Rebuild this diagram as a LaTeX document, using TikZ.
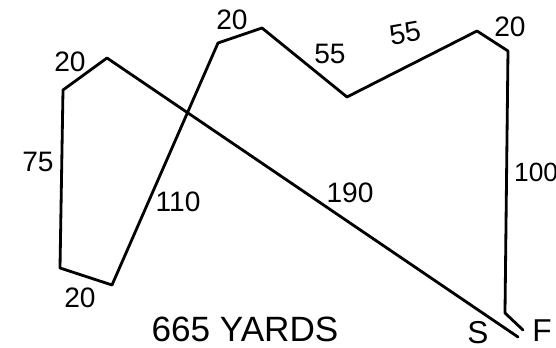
\documentclass[tikz,border=0pt]{standalone}
\usepackage{fontspec}
\setmainfont{Liberation Sans}
\usepackage{tikz}
\usetikzlibrary{positioning}
\tikzset{
 course/.style={draw=black, line width=1.6pt, line join=round, line cap=round},
 dist/.style={font=\fontsize{16}{16}\selectfont, inner sep=1pt},
 endmark/.style={font=\fontsize{18}{18}\selectfont, inner sep=1pt},
 total/.style={font=\fontsize{20}{20}\selectfont, inner sep=1pt},
}

\begin{document}
\begin{tikzpicture}[x=0.02cm, y=-0.02cm]
\useasboundingbox (0,0) rectangle (556,348);

% ,  Course corners , , , , , , , , , , , , , -
\coordinate (S)   at (518,337);
\coordinate (tl)  at (107,58);
\coordinate (tlb) at (63,90);
\coordinate (bl)  at (60,268);
\coordinate (blb) at (112,285);
\coordinate (ml)  at (218,43);
\coordinate (mr)  at (262,28);
\coordinate (dip) at (347,97);
\coordinate (tr)  at (477,31);
\coordinate (trb) at (508,51);
\coordinate (br)  at (505,313);
\coordinate (F)   at (523,330);

% ,  Course line , , , , , , , , , , , , , , -
\draw[course] (S) -- (tl) -- (tlb) -- (bl) -- (blb) -- (ml) -- (mr)
  -- (dip) -- (tr) -- (trb) -- (br) -- (F);

% ,  Leg lengths , , , , , , , , , , , , , , -
\node[dist] (l190) at (350,193) {190};
\node[dist] (l20a) at (70,62) {20};
\node[dist] (l75)  at (38,162) {75};
\node[dist] (l20b) at (80,298) {20};
\node[dist] (l110) at (178,202) {110};
\node[dist] (l20c) at (232,20) {20};
\node[dist] (l55a) at (330,54) {55};
\node[dist, rotate=10] (l55b) at (405,33) {55};
\node[dist] (l20d) at (510,27) {20};
\node[dist, font=\fontsize{15}{15}\selectfont, anchor=west] (l100) at (512,172) {100};

% ,  Start, finish and total , , , , , , , , -
\node[endmark] (sl) at (478,333) {S};
\node[endmark] (fl) at (542,331) {F};
\node[total] (sum) at (245,329) {665 YARDS};

\end{tikzpicture}
\end{document}
